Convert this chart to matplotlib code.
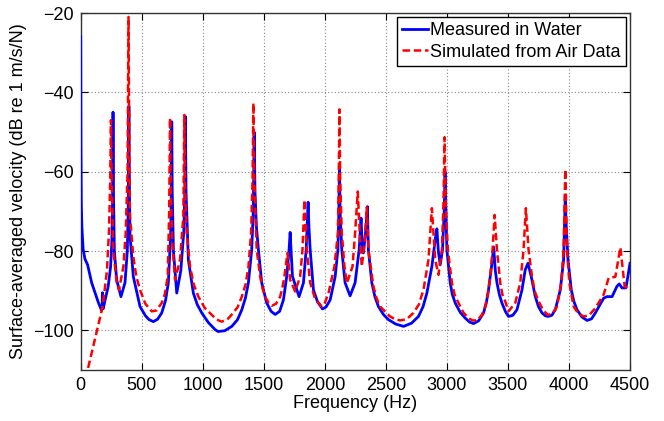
import matplotlib
matplotlib.use("Agg")
import matplotlib.pyplot as plt

# Measured in Water (blue)
meas_f = [0, 2, 5, 10, 20, 35, 57, 90, 145, 172,
          176, 178, 180, 185, 199, 225, 245, 255, 261, 265,
          269, 276, 295, 330, 363, 382, 390, 395, 400, 404,
          431, 486, 530, 560, 595, 630, 664, 695, 718, 737,
          743, 746, 750, 760, 787, 820, 845, 853, 858, 863,
          882, 923, 955, 992, 1045, 1101, 1125, 1180, 1238, 1285,
          1320, 1350, 1374, 1401, 1414, 1421, 1428, 1440, 1456, 1483,
          1524, 1560, 1593, 1630, 1661, 1688, 1707, 1716, 1722, 1735,
          1789, 1825, 1847, 1857, 1863, 1870, 1880, 1907, 1940, 1981,
          2010, 2044, 2085, 2107, 2115, 2120, 2125, 2139, 2166, 2207,
          2248, 2281, 2297, 2305, 2316, 2335, 2349, 2357, 2385, 2410,
          2439, 2480, 2521, 2580, 2645, 2710, 2767, 2805, 2836, 2877,
          2905, 2918, 2930, 2945, 2964, 2978, 2985, 2992, 3000, 3027,
          3045, 3068, 3110, 3150, 3185, 3218, 3260, 3300, 3322, 3341,
          3369, 3383, 3397, 3410, 3430, 3451, 3480, 3505, 3540, 3574,
          3615, 3642, 3664, 3691, 3724, 3750, 3779, 3805, 3828, 3860,
          3888, 3929, 3956, 3965, 3970, 3975, 3992, 4019, 4040, 4066,
          4105, 4148, 4185, 4216, 4284, 4311, 4353, 4393, 4412, 4434,
          4467, 4500]
meas_db = [-26, -53, -68, -74, -79.5, -82, -83.5, -88, -93, -95,
           -94, -90.5, -93, -94.5, -92.5, -89, -84, -78, -68, -45,
           -66, -80, -87.3, -91.5, -88, -80, -68, -43.5, -66, -76,
           -86.4, -94, -96.3, -97.3, -97.8, -97.2, -95.6, -92.5, -88, -76,
           -65, -47.4, -65, -80, -90.6, -85, -75, -65, -46.1, -65,
           -82.2, -90.6, -93.5, -95.6, -98, -99.8, -100.3, -100.1, -99, -97.3,
           -94.8, -91.8, -88, -79.7, -70, -50, -65, -74, -79.7, -88,
           -93.1, -95.2, -96, -95.2, -92.3, -86.4, -79.7, -75.3, -79, -86.4,
           -91.5, -88, -79.7, -72, -67.7, -74, -79.7, -89.8, -92.8, -94.6,
           -94.1, -92.3, -86.4, -79.7, -70, -58, -70, -79.7, -88, -91.3,
           -88, -79.7, -71.7, -78, -80.5, -75, -68.8, -79.7, -88, -91.5,
           -94, -96, -97.3, -98.4, -99, -98.2, -96.5, -94, -90.6, -83.9,
           -77, -74.4, -80, -83.5, -79.7, -70, -60, -70, -79.7, -88,
           -91, -93.1, -95.5, -96.9, -97.9, -98.3, -97.6, -95.6, -93.2, -89.8,
           -83.1, -79, -85, -88, -91, -93.1, -95.3, -96.5, -96.2, -94.8,
           -89.8, -84.7, -83.1, -86.4, -91.5, -94, -95.6, -96.3, -96.5, -96.2,
           -94.8, -89.8, -82.2, -72, -66, -72, -82.2, -89.8, -92.7, -94.8,
           -96.6, -97.5, -97.1, -95.6, -91.9, -91.5, -91.5, -88.9, -88.3, -89.3,
           -89.3, -83.1]

# Simulated from Air Data (red dashed)
sim_f = [20, 57, 180, 215, 232, 242, 248, 254, 267, 295,
         314, 350, 369, 384, 392, 399, 404, 431, 455, 486,
         530, 582, 620, 664, 690, 713, 725, 732, 738, 751,
         773, 814, 841, 849, 856, 869, 896, 925, 964, 1015,
         1074, 1115, 1156, 1200, 1238, 1285, 1320, 1350, 1374, 1396,
         1408, 1415, 1422, 1442, 1470, 1490, 1511, 1540, 1565, 1600,
         1634, 1652, 1669, 1694, 1716, 1757, 1798, 1817, 1833, 1852,
         1880, 1920, 1975, 2000, 2030, 2079, 2107, 2114, 2120, 2126,
         2139, 2161, 2180, 2227, 2248, 2270, 2290, 2303, 2325, 2344,
         2357, 2398, 2425, 2453, 2530, 2575, 2617, 2670, 2726, 2770,
         2808, 2849, 2877, 2904, 2931, 2959, 2972, 2981, 2990, 3008,
         3041, 3065, 3095, 3135, 3177, 3210, 3246, 3285, 3314, 3335,
         3355, 3374, 3391, 3410, 3437, 3455, 3478, 3505, 3560, 3601,
         3628, 3647, 3669, 3697, 3720, 3751, 3790, 3828, 3865, 3902,
         3937, 3956, 3963, 3970, 3977, 3984, 4003, 4038, 4075, 4120,
         4165, 4216, 4284, 4325, 4380, 4421, 4456, 4500]
sim_db = [-115, -110, -94, -85, -75, -62, -47, -62, -79.7, -88,
          -89.8, -83.9, -75.5, -60, -21, -60, -71.3, -81.4, -86.3, -89.8,
          -93.3, -95.2, -95, -93.1, -90.8, -86.4, -70, -46.5, -65, -78,
          -87.3, -82.2, -71.3, -45.7, -65, -75.5, -83.9, -88.3, -91.5, -94.3,
          -96.1, -97.3, -97.8, -97.3, -96, -94.2, -91.5, -88.5, -84.1, -75.5,
          -62, -42.7, -62, -79.7, -86.4, -89.5, -91.5, -93.1, -93.8, -93.3,
          -91.5, -89.4, -86.4, -80.5, -87.3, -90.2, -86.4, -79.7, -67.1, -79.7,
          -88, -92, -94, -93.1, -90.6, -83.9, -75.5, -62, -44.3, -62,
          -75.5, -83.9, -88.1, -83.9, -75.5, -65, -78, -83.9, -78, -69,
          -79.7, -88.9, -92, -94, -96.4, -97.2, -97.5, -97.2, -95.6, -93.5,
          -89.8, -82.2, -69.2, -82.2, -86, -79.7, -68, -51.3, -68, -79.7,
          -88, -91.2, -93.1, -95.5, -96.9, -97.5, -97.5, -96.2, -94, -91,
          -86.4, -79.7, -70.9, -79.7, -88, -91, -92.7, -95.2, -93.1, -88,
          -79.7, -69.2, -79.7, -86.4, -90.2, -92.7, -95, -96.1, -95.8, -94,
          -88, -79.7, -70, -59.4, -70, -79.7, -88, -94, -95.7, -96.5,
          -96.2, -94.4, -91, -86.8, -86.5, -79.1, -88.9, -89.8]

xticks = [0, 500, 1000, 1500, 2000, 2500, 3000, 3500, 4000, 4500]
yticks = [-100, -80, -60, -40, -20]

plt.rcParams['font.family'] = ['Liberation Sans', 'DejaVu Sans']

fig = plt.figure(figsize=(6.64, 4.21), dpi=100)
ax = fig.add_axes([0.1215, 0.1211, 0.8273, 0.848])

ax.plot(meas_f, meas_db, color='#0000ff', lw=2.0, label='Measured in Water', zorder=3)
ax.plot(sim_f, sim_db, color='#ff0000', lw=1.8, ls=(0, (3.0, 1.5)), label='Simulated from Air Data', zorder=4)

ax.set_xlim(0, 4500)
ax.set_ylim(-110, -20)
ax.set_xticks(xticks)
ax.set_yticks(yticks)
ax.tick_params(direction='in', top=True, right=True, length=5, width=0.8, labelsize=13, pad=5)
ax.grid(True, ls=(0, (1, 2)), color='#888888', lw=0.8)
for s in ax.spines.values():
    s.set_color('#333333')
    s.set_linewidth(1.0)

ax.set_xlabel('Frequency (Hz)', fontsize=13, labelpad=1)
ax.set_ylabel('Surface-averaged velocity (dB re 1 m/s/N)', fontsize=13, labelpad=4)

leg = ax.legend(loc='upper right', fontsize=13, fancybox=False, framealpha=1, edgecolor='black',
                handlelength=1.4, handletextpad=0.15, borderaxespad=0.2, borderpad=0.3, labelspacing=0.25)
leg.get_frame().set_linewidth(1.0)

fig.savefig('out.png', dpi=100)
